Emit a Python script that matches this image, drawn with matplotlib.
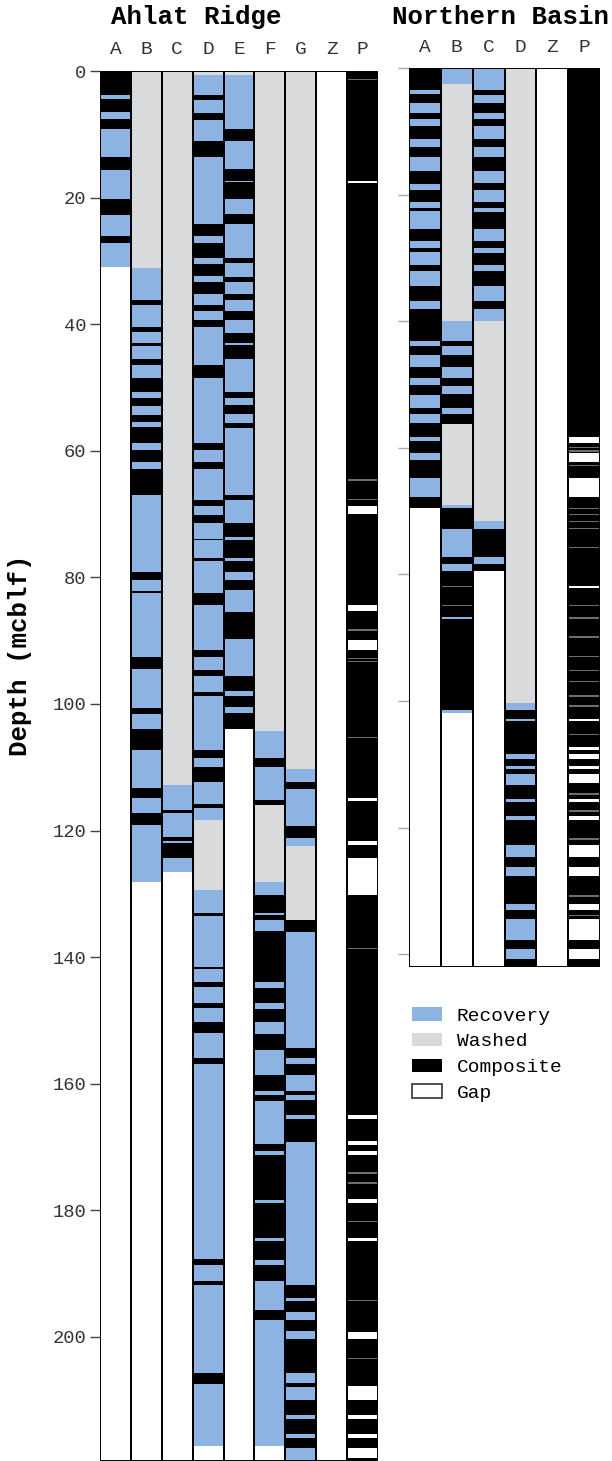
import matplotlib
matplotlib.use("Agg")
import matplotlib.pyplot as plt
from matplotlib.patches import Patch

plt.rcParams['font.family'] = ['Liberation Mono', 'DejaVu Sans Mono']

# segment kinds: R = recovery, W = washed, C = composite, G = gap (white)
COLORS = {"R": "#8db3e2", "W": "#d9dadb", "C": "#000000", "G": "#ffffff"}

# ---------------- Ahlat Ridge (depth, mcblf) ----------------
ar_labels = ["A", "B", "C", "D", "E", "F", "G", "Z", "P"]
ar_bottom = 219.6

ar_a = [("C", 0, 3.8), ("R", 3.8, 4.5), ("C", 4.5, 6.4), ("R", 6.4, 7.6), ("C", 7.6, 9.2),
        ("R", 9.2, 13.6), ("C", 13.6, 15.6), ("R", 15.6, 20.3), ("C", 20.3, 22.7),
        ("R", 22.7, 26.1), ("C", 26.1, 27.1), ("R", 27.1, 30.9)]

ar_b = [("W", 0, 31.2), ("R", 31.2, 36.1), ("C", 36.1, 37.0), ("R", 37.0, 40.4), ("C", 40.4, 41.2),
        ("R", 41.2, 43.0), ("C", 43.0, 43.4), ("R", 43.4, 45.5), ("C", 45.5, 46.4), ("R", 46.4, 48.5),
        ("C", 48.5, 50.7), ("R", 50.7, 51.7), ("C", 51.7, 53.0), ("R", 53.0, 54.3), ("C", 54.3, 55.4),
        ("R", 55.4, 56.3), ("C", 56.3, 58.8), ("R", 58.8, 59.9), ("C", 59.9, 61.7), ("R", 61.7, 62.8),
        ("C", 62.8, 67.0), ("R", 67.0, 79.1), ("C", 79.1, 80.4), ("R", 80.4, 82.1), ("C", 82.1, 82.4),
        ("R", 82.4, 92.6), ("C", 92.6, 94.5), ("R", 94.5, 100.7), ("C", 100.7, 101.6), ("R", 101.6, 104.0),
        ("C", 104.0, 107.3), ("R", 107.3, 113.3), ("C", 113.3, 114.8), ("R", 114.8, 117.3),
        ("C", 117.3, 119.1), ("R", 119.1, 128.2)]

ar_c = [("W", 0, 112.8), ("R", 112.8, 116.7), ("C", 116.7, 117.3), ("R", 117.3, 121.0),
        ("C", 121.0, 121.6), ("R", 121.6, 122.0), ("C", 122.0, 124.4), ("R", 124.4, 126.5)]

ar_d = [("W", 0, 0.7), ("R", 0.7, 3.8), ("C", 3.8, 4.6), ("R", 4.6, 6.6), ("C", 6.6, 7.7), ("R", 7.7, 11.0),
        ("C", 11.0, 13.6), ("R", 13.6, 24.1), ("C", 24.1, 26.1), ("R", 26.1, 27.1), ("C", 27.1, 29.6),
        ("R", 29.6, 30.5), ("C", 30.5, 32.4), ("R", 32.4, 33.4), ("C", 33.4, 35.2), ("R", 35.2, 37.0),
        ("C", 37.0, 37.9), ("R", 37.9, 39.3), ("C", 39.3, 40.4), ("R", 40.4, 46.4), ("C", 46.4, 48.5),
        ("R", 48.5, 58.8), ("C", 58.8, 59.9), ("R", 59.9, 61.7), ("C", 61.7, 62.9), ("R", 62.9, 67.7),
        ("C", 67.7, 68.7), ("R", 68.7, 70.1), ("C", 70.1, 71.4), ("R", 71.4, 73.9), ("C", 73.9, 74.1),
        ("R", 74.1, 77.0), ("C", 77.0, 77.4), ("R", 77.4, 82.4), ("C", 82.4, 84.4), ("R", 84.4, 91.5),
        ("C", 91.5, 92.6), ("R", 92.6, 94.6), ("C", 94.6, 95.6), ("R", 95.6, 98.1), ("C", 98.1, 98.7),
        ("R", 98.7, 107.3), ("C", 107.3, 108.6), ("R", 108.6, 109.9), ("C", 109.9, 112.3),
        ("R", 112.3, 115.8), ("C", 115.8, 116.5), ("R", 116.5, 118.4), ("W", 118.4, 129.4),
        ("R", 129.4, 133.1), ("C", 133.1, 133.5), ("R", 133.5, 141.5), ("C", 141.5, 141.8),
        ("R", 141.8, 143.9), ("C", 143.9, 144.7), ("R", 144.7, 147.3), ("C", 147.3, 148.1),
        ("R", 148.1, 150.2), ("C", 150.2, 152.0), ("R", 152.0, 156.0), ("C", 156.0, 156.9),
        ("R", 156.9, 187.7), ("C", 187.7, 188.6), ("R", 188.6, 191.1), ("C", 191.1, 191.8),
        ("R", 191.8, 205.7), ("C", 205.7, 207.4), ("R", 207.4, 217.3)]

ar_e = [("W", 0, 0.7), ("R", 0.7, 9.2), ("C", 9.2, 11.0), ("R", 11.0, 15.5), ("C", 15.5, 17.3),
        ("R", 17.3, 17.6), ("C", 17.6, 20.3), ("R", 20.3, 22.6), ("C", 22.6, 24.1), ("R", 24.1, 29.6),
        ("C", 29.6, 30.3), ("R", 30.3, 32.5), ("C", 32.5, 33.3), ("R", 33.3, 35.2), ("C", 35.2, 36.1),
        ("R", 36.1, 37.9), ("C", 37.9, 39.4), ("R", 39.4, 41.4), ("C", 41.4, 42.9), ("R", 42.9, 43.3),
        ("C", 43.3, 45.5), ("R", 45.5, 50.7), ("C", 50.7, 51.7), ("R", 51.7, 52.8), ("C", 52.8, 54.2),
        ("R", 54.2, 55.6), ("C", 55.6, 56.4), ("R", 56.4, 67.0), ("C", 67.0, 67.7), ("R", 67.7, 71.4),
        ("C", 71.4, 73.7), ("R", 73.7, 74.1), ("C", 74.1, 77.0), ("R", 77.0, 77.4), ("C", 77.4, 79.1),
        ("R", 79.1, 80.4), ("C", 80.4, 82.0), ("R", 82.0, 85.4), ("C", 85.4, 89.8), ("R", 89.8, 95.6),
        ("C", 95.6, 97.9), ("R", 97.9, 98.7), ("C", 98.7, 100.4), ("R", 100.4, 101.5), ("C", 101.5, 104.0)]

ar_f = [("W", 0, 104.2), ("R", 104.2, 108.6), ("C", 108.6, 110.0), ("R", 110.0, 115.2), ("C", 115.2, 115.9),
        ("W", 115.9, 128.2), ("R", 128.2, 130.2), ("C", 130.2, 133.0), ("R", 133.0, 133.4),
        ("C", 133.4, 134.1), ("R", 134.1, 135.8), ("C", 135.8, 144.0), ("R", 144.0, 144.8),
        ("C", 144.8, 147.3), ("R", 147.3, 148.2), ("C", 148.2, 150.2), ("R", 150.2, 152.1),
        ("C", 152.1, 154.6), ("R", 154.6, 158.6), ("C", 158.6, 161.2), ("R", 161.2, 161.8),
        ("C", 161.8, 162.7), ("R", 162.7, 169.5), ("C", 169.5, 170.7), ("R", 170.7, 171.2),
        ("C", 171.2, 178.3), ("R", 178.3, 178.9), ("C", 178.9, 184.4), ("R", 184.4, 184.9),
        ("C", 184.9, 187.8), ("R", 187.8, 188.6), ("C", 188.6, 191.1), ("R", 191.1, 195.8),
        ("C", 195.8, 197.4), ("R", 197.4, 217.3)]

ar_g = [("W", 0, 110.3), ("R", 110.3, 112.4), ("C", 112.4, 113.5), ("R", 113.5, 119.3), ("C", 119.3, 121.1),
        ("R", 121.1, 122.5), ("W", 122.5, 134.1), ("C", 134.1, 136.0), ("R", 136.0, 154.4),
        ("C", 154.4, 156.0), ("R", 156.0, 156.9), ("C", 156.9, 158.6), ("R", 158.6, 161.2),
        ("C", 161.2, 161.8), ("R", 161.8, 162.5), ("C", 162.5, 164.9), ("R", 164.9, 165.5),
        ("C", 165.5, 169.2), ("R", 169.2, 191.8), ("C", 191.8, 193.9), ("R", 193.9, 194.4),
        ("C", 194.4, 196.0), ("R", 196.0, 197.4), ("C", 197.4, 199.1), ("R", 199.1, 200.3),
        ("C", 200.3, 205.7), ("R", 205.7, 207.3), ("C", 207.3, 207.9), ("R", 207.9, 209.9),
        ("C", 209.9, 212.3), ("R", 212.3, 213.0), ("C", 213.0, 215.3), ("R", 215.3, 216.0),
        ("C", 216.0, 217.6), ("R", 217.6, 219.6)]

ar_z = []

# composite column: black with white gaps
ar_p_gaps = [(1.2, 1.4), (17.4, 17.7), (64.5, 64.7), (67.6, 67.8), (68.8, 70.0), (84.4, 85.3),
             (88.2, 88.4), (89.9, 91.5), (92.7, 92.9), (93.2, 93.4), (105.2, 105.4), (114.9, 115.3),
             (121.7, 122.3), (124.4, 130.2), (138.5, 138.7), (164.9, 165.6), (169.1, 169.6),
             (170.7, 171.2), (174.0, 174.2), (175.6, 175.8), (178.2, 178.9), (181.7, 181.9),
             (184.4, 184.9), (194.1, 194.3), (199.2, 200.4), (203.3, 203.5), (207.8, 209.9),
             (212.3, 213.0), (215.3, 216.0), (217.6, 219.2)]

# ---------------- Northern Basin ----------------
nb_labels = ["A", "B", "C", "D", "Z", "P"]
nb_bottom = 142.0

nb_a = [("C", 0, 3.4), ("R", 3.4, 4.1), ("C", 4.1, 5.6), ("R", 5.6, 7.1), ("C", 7.1, 8.1), ("R", 8.1, 9.2),
        ("C", 9.2, 11.2), ("R", 11.2, 12.5), ("C", 12.5, 14.1), ("R", 14.1, 16.3), ("C", 16.3, 18.3),
        ("R", 18.3, 19.2), ("C", 19.2, 21.1), ("R", 21.1, 22.1), ("C", 22.1, 22.6), ("R", 22.6, 25.4),
        ("C", 25.4, 27.4), ("R", 27.4, 28.4), ("C", 28.4, 29.1), ("R", 29.1, 31.2), ("C", 31.2, 32.1),
        ("R", 32.1, 34.4), ("C", 34.4, 36.8), ("R", 36.8, 38.0), ("C", 38.0, 43.1), ("R", 43.1, 43.9),
        ("C", 43.9, 45.4), ("R", 45.4, 47.3), ("C", 47.3, 49.0), ("R", 49.0, 50.1), ("C", 50.1, 51.7),
        ("R", 51.7, 53.7), ("C", 53.7, 54.6), ("R", 54.6, 56.1), ("C", 56.1, 58.3), ("R", 58.3, 59.0),
        ("C", 59.0, 60.8), ("R", 60.8, 62.0), ("C", 62.0, 64.8), ("R", 64.8, 67.8), ("C", 67.8, 69.5)]

nb_b = [("R", 0, 2.5), ("W", 2.5, 40.0), ("R", 40.0, 43.1), ("C", 43.1, 43.9), ("R", 43.9, 45.4),
        ("C", 45.4, 47.3), ("R", 47.3, 49.0), ("C", 49.0, 50.3), ("R", 50.3, 51.5), ("C", 51.5, 53.7),
        ("R", 53.7, 54.6), ("C", 54.6, 56.2), ("W", 56.2, 69.1), ("R", 69.1, 69.5), ("C", 69.5, 72.8),
        ("R", 72.8, 77.2), ("C", 77.2, 78.3), ("R", 78.3, 79.5), ("C", 79.5, 81.8), ("L", 81.8, 82.0),
        ("C", 82.0, 84.8), ("L", 84.8, 85.0), ("C", 85.0, 86.7), ("R", 86.7, 87.1), ("C", 87.1, 101.4),
        ("R", 101.4, 101.9)]

nb_c = [("R", 0, 3.4), ("C", 3.4, 4.3), ("R", 4.3, 5.5), ("C", 5.5, 7.1), ("R", 7.1, 8.1), ("C", 8.1, 9.2),
        ("R", 9.2, 11.2), ("C", 11.2, 12.5), ("R", 12.5, 14.1), ("C", 14.1, 16.3), ("R", 16.3, 18.2),
        ("C", 18.2, 19.2), ("R", 19.2, 21.1), ("C", 21.1, 22.1), ("R", 22.1, 22.8), ("C", 22.8, 25.4),
        ("R", 25.4, 27.4), ("C", 27.4, 28.4), ("R", 28.4, 29.2), ("C", 29.2, 31.2), ("R", 31.2, 32.1),
        ("C", 32.1, 34.4), ("R", 34.4, 36.8), ("C", 36.8, 38.0), ("R", 38.0, 40.0), ("W", 40.0, 71.6),
        ("R", 71.6, 72.8), ("C", 72.8, 77.2), ("R", 77.2, 78.3), ("C", 78.3, 79.5)]

nb_d = [("W", 0, 100.3), ("R", 100.3, 101.5), ("C", 101.5, 102.8), ("R", 102.8, 103.2), ("C", 103.2, 108.4),
        ("R", 108.4, 109.1), ("C", 109.1, 110.2), ("R", 110.2, 110.8), ("C", 110.8, 111.6),
        ("R", 111.6, 113.2), ("C", 113.2, 115.5), ("R", 115.5, 115.9), ("C", 115.9, 118.2),
        ("R", 118.2, 118.8), ("C", 118.8, 122.8), ("R", 122.8, 124.7), ("C", 124.7, 126.2),
        ("R", 126.2, 127.7), ("C", 127.7, 132.1), ("R", 132.1, 133.1), ("C", 133.1, 134.5),
        ("R", 134.5, 137.7), ("C", 137.7, 139.2), ("R", 139.2, 140.7), ("C", 140.7, 142.0)]

nb_z = []

nb_p_gaps = [(58.3, 59.2), (59.9, 60.1), (60.4, 60.6), (60.8, 62.2), (62.7, 62.9), (64.8, 67.8),
             (69.5, 69.7), (70.4, 70.6), (71.6, 71.8), (72.7, 72.9), (75.7, 75.9), (81.8, 82.2),
             (84.8, 85.0), (86.7, 87.0), (89.8, 90.0), (92.9, 93.1), (95.1, 95.3), (96.8, 97.0),
             (99.1, 99.3), (100.7, 100.9), (102.8, 103.2), (105.2, 105.4), (107.3, 107.7),
             (108.4, 109.1), (110.2, 110.8), (111.6, 113.0), (114.6, 114.8), (115.5, 115.9),
             (117.3, 117.5), (118.2, 118.8), (121.7, 121.9), (122.8, 124.7), (126.2, 127.7),
             (130.7, 130.9), (132.1, 133.1), (133.8, 134.0), (134.5, 137.7), (139.2, 140.7)]

# very thin gaps read as grey hairlines in the picture
COLORS["L"] = "#6e6e6e"


def draw_column(ax, x, segs, bottom):
    for kind, top, bot in segs:
        ax.bar(x, bot - top, bottom=top, width=1.0, color=COLORS[kind], linewidth=0)
    ax.bar(x, bottom, bottom=0, width=1.0, fill=False, edgecolor="black", linewidth=1.4, zorder=5)


def draw_composite(ax, x, gaps, bottom):
    segs = [("C", 0, bottom)]
    for a, b in gaps:
        segs.append(("L" if b - a < 0.3 else "G", a, b))
    draw_column(ax, x, segs, bottom)


W, H = 612, 1461
fig = plt.figure(figsize=(W / 100, H / 100), dpi=100)

# left panel
ax1 = fig.add_axes([100 / W, 0, 278 / W, 1 - 71 / H])
for i, segs in enumerate([ar_a, ar_b, ar_c, ar_d, ar_e, ar_f, ar_g, ar_z]):
    draw_column(ax1, i, segs, ar_bottom)
draw_composite(ax1, 8, ar_p_gaps, ar_bottom)
ax1.set_xlim(-0.5, len(ar_labels) - 0.5)
ax1.set_ylim(ar_bottom, 0)
ax1.set_yticks(range(0, 201, 20))
ax1.tick_params(axis="y", length=7, width=1, color="#444444", pad=3, labelsize=13.5, labelcolor="#333333")
ax1.xaxis.tick_top()
ax1.set_xticks(range(len(ar_labels)))
ax1.set_xticklabels(ar_labels, fontsize=14, color="#333333")
ax1.tick_params(axis="x", length=0, pad=9)
for s in ax1.spines.values():
    s.set_visible(False)

# right panel
nb_h = nb_bottom * (1390 / ar_bottom)
ax2 = fig.add_axes([409 / W, 1 - (68 + nb_h) / H, 191 / W, nb_h / H])
for i, segs in enumerate([nb_a, nb_b, nb_c, nb_d, nb_z]):
    draw_column(ax2, i, segs, nb_bottom)
draw_composite(ax2, 5, nb_p_gaps, nb_bottom)
ax2.set_xlim(-0.5, len(nb_labels) - 0.5)
ax2.set_ylim(nb_bottom, 0)
ax2.set_yticks(range(0, 141, 20))
ax2.set_yticklabels([])
ax2.tick_params(axis="y", length=8, width=1, color="#aaaaaa")
ax2.xaxis.tick_top()
ax2.set_xticks(range(len(nb_labels)))
ax2.set_xticklabels(nb_labels, fontsize=14, color="#333333")
ax2.tick_params(axis="x", length=0, pad=9)
for s in ax2.spines.values():
    s.set_visible(False)

fig.text(196 / W, 1 - 17 / H, "Ahlat Ridge", ha="center", va="center", fontsize=18.5, fontweight="bold")
fig.text(500 / W, 1 - 17 / H, "Northern Basin", ha="center", va="center", fontsize=18.5, fontweight="bold")
fig.text(20 / W, 1 - 655 / H, "Depth (mcblf)", ha="center", va="center", rotation=90,
         fontsize=18.5, fontweight="bold")

handles = [Patch(facecolor=COLORS["R"], edgecolor="none", label="Recovery"),
           Patch(facecolor=COLORS["W"], edgecolor="none", label="Washed"),
           Patch(facecolor=COLORS["C"], edgecolor="none", label="Composite"),
           Patch(facecolor="white", edgecolor="#333333", linewidth=1.2, label="Gap")]
fig.legend(handles=handles, loc="upper left", bbox_to_anchor=(412 / W, 1 - 1007 / H),
           frameon=False, fontsize=14, handlelength=1.55, handleheight=0.7,
           handletextpad=0.75, labelspacing=0.42, borderpad=0, borderaxespad=0)

fig.savefig("out.png", dpi=100)
